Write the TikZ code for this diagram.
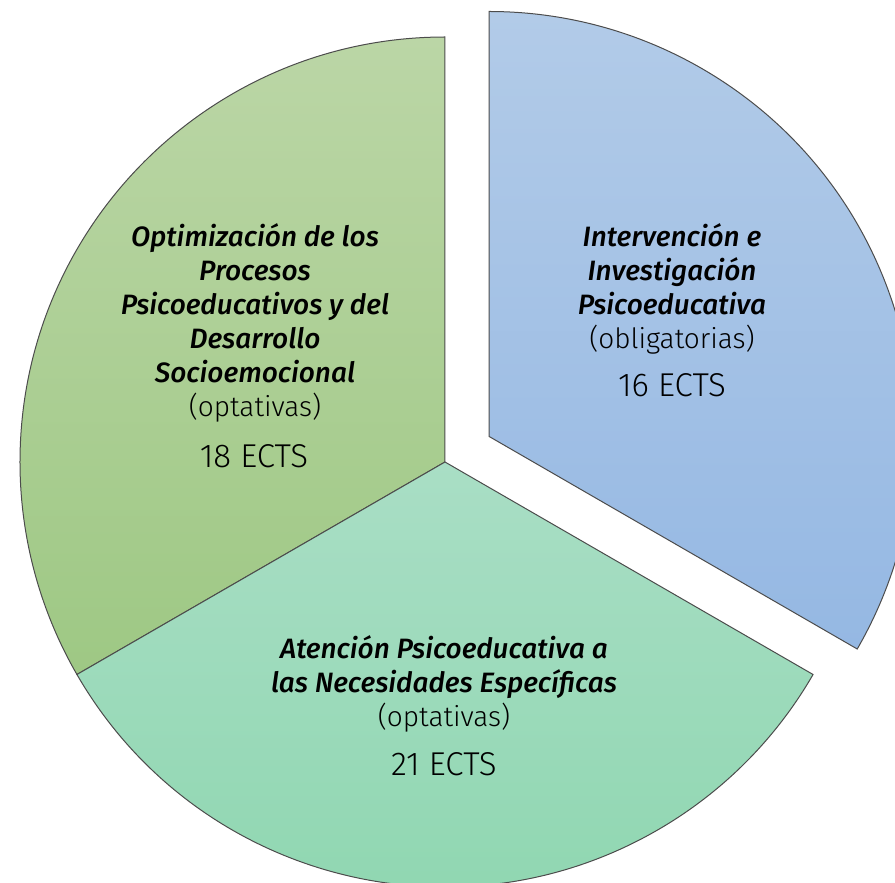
\documentclass[tikz,border=0pt]{standalone}
\usepackage{fontspec}
\setmainfont{Fira Sans}
\newfontfamily\thinfont{Fira Sans Light}
\newfontfamily\titlefont{Fira Sans Medium}
\usetikzlibrary{positioning}
\definecolor{greentop}{HTML}{BBD6A6}
\definecolor{greenbot}{HTML}{9EC884}
\definecolor{tealtop}{HTML}{A9DEC5}
\definecolor{tealbot}{HTML}{8DD6AF}
\definecolor{bluetop}{HTML}{B2CBE8}
\definecolor{bluebot}{HTML}{95B8E3}
\tikzset{
  slice/.style={draw=black!70,line width=0.5pt},
  slicetitle/.style={align=center,inner sep=0pt,
    font=\fontsize{14}{17}\selectfont\titlefont\itshape},
  ects/.style={inner sep=0pt,font=\fontsize{16.5}{19}\selectfont\thinfont}
}
\newcommand{\kind}[1]{{\upshape\thinfont #1}}

\begin{document}
\begin{tikzpicture}[x=0.5pt,y=0.5pt]
  \useasboundingbox (-445,-421) rectangle (450,462);
  \clip (-445,-421) rectangle (450,462);
% Pie slices
  \draw[slice,top color=greentop,bottom color=greenbot]
    (0,0) -- (90:425) arc(90:210:425) -- cycle;
  \draw[slice,top color=tealtop,bottom color=tealbot]
    (0,0) -- (210:425) arc(210:330:425) -- cycle;
% Exploded slice
  \draw[slice,top color=bluetop,bottom color=bluebot,shift={(30:51)}]
    (0,0) -- (-30:425) arc(-30:90:425) -- cycle;
% Labels
  \node[slicetitle] (optim) at (-190,139)
    {Optimización de los\\Procesos\\Psicoeducativos y del\\Desarrollo\\Socioemocional\\\kind{(optativas)}};
  \node[ects] (ects18) at (-191,6) {18 ECTS};
  \node[slicetitle] (interv) at (227,173)
    {Intervención e\\Investigación\\Psicoeducativa\\\kind{(obligatorias)}};
  \node[ects] (ects16) at (227,77) {16 ECTS};
  \node[slicetitle] (atenc) at (-1,-222)
    {Atención Psicoeducativa a\\las Necesidades Específicas\\\kind{(optativas)}};
  \node[ects] (ects21) at (-1,-302) {21 ECTS};
\end{tikzpicture}
\end{document}
